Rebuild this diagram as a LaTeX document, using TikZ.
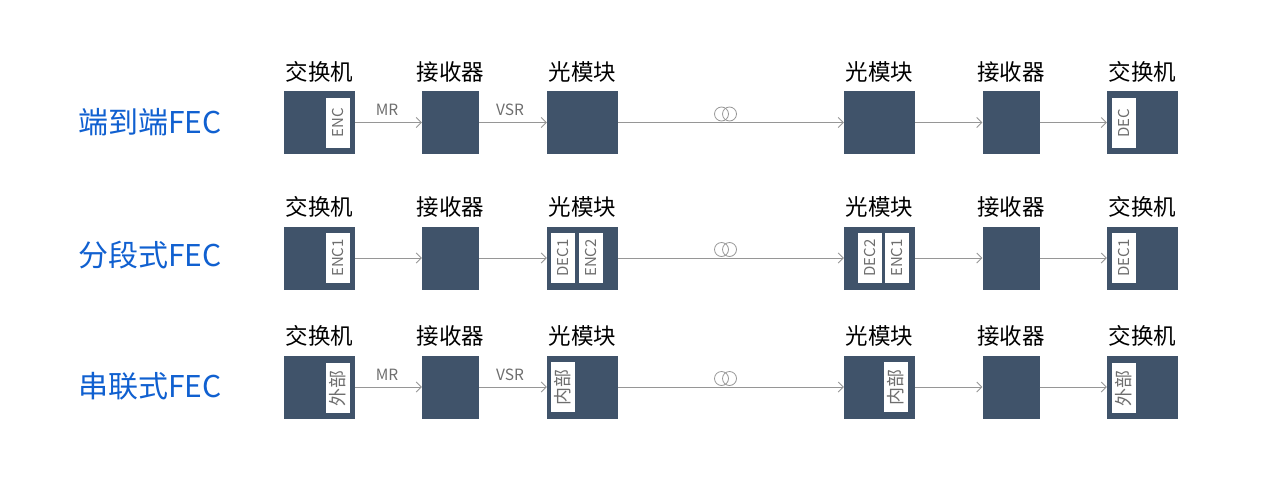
\documentclass[tikz,border=0pt]{standalone}
\usepackage{fontspec}
\setmainfont{Noto Sans CJK SC}
\usetikzlibrary{arrows.meta}
\definecolor{boxc}{RGB}{64,83,106}
\definecolor{linec}{RGB}{150,150,150}
\definecolor{txtc}{RGB}{110,110,110}
\definecolor{bluec}{RGB}{16,96,208}
\tikzset{
  dev/.style={fill=boxc,draw=none,minimum height=63pt,inner sep=0pt},
  wide/.style={dev,minimum width=71pt},
  narrow/.style={dev,minimum width=57pt},
  tag/.style={fill=white,draw=none,rotate=90,minimum width=50pt,minimum height=24pt,inner sep=0pt,font=\fontsize{15}{15}\selectfont,text=txtc},
  cjktag/.style={tag,font=\fontsize{18}{18}\selectfont},
  head/.style={font=\fontsize{22.5}{22.5}\selectfont,text=black,inner sep=0pt},
  rowlab/.style={font=\fontsize{30}{30}\selectfont,text=bluec,inner sep=0pt},
  lnk/.style={draw=linec,line width=0.8pt,-{Straight Barb[length=5pt,width=10pt,line width=0.8pt]}},
  rate/.style={font=\fontsize{15.5}{15.5}\selectfont,text=txtc,inner sep=0pt},
  fib/.style={draw=linec,line width=0.8pt}
}
\begin{document}
\begin{tikzpicture}[x=1pt,y=-1pt]
\useasboundingbox (0,0) rectangle (1280,480);
% row labels
\node[rowlab] (l1) at (150,122) {端到端FEC};
\node[rowlab] (l2) at (150,255) {分段式FEC};
\node[rowlab] (l3) at (150,386) {串联式FEC};
% rows
\foreach \r/\y in {1/122.5,2/258,3/387}{
  \node[wide]   (a\r) at (319.5,\y) {};
  \node[narrow] (b\r) at (450.5,\y) {};
  \node[wide]   (c\r) at (582.5,\y) {};
  \node[wide]   (d\r) at (879.5,\y) {};
  \node[narrow] (e\r) at (1011,\y) {};
  \node[wide]   (f\r) at (1142.5,\y) {};
  \node[head] (ha\r) at ([yshift=19pt]a\r.north) {交换机};
  \node[head] (hb\r) at ([yshift=19pt]b\r.north) {接收器};
  \node[head] (hc\r) at ([yshift=19pt]c\r.north) {光模块};
  \node[head] (hd\r) at ([yshift=19pt]d\r.north) {光模块};
  \node[head] (he\r) at ([yshift=19pt]e\r.north) {接收器};
  \node[head] (hf\r) at ([yshift=19pt]f\r.north) {交换机};
  \draw[lnk] (a\r.east) -- (b\r.west);
  \draw[lnk] (b\r.east) -- (c\r.west);
  \draw[lnk] (c\r.east) -- (d\r.west);
  \draw[lnk] (d\r.east) -- (e\r.west);
  \draw[lnk] (e\r.east) -- (f\r.west);
  \draw[fib] (721.5,\y-8.5) circle[radius=7pt];
  \draw[fib] (729.5,\y-8.5) circle[radius=7pt];
}
% tags row 1
\node[tag] (t1a) at (338,123) {ENC};
\node[tag] (t1f) at (1123.5,123) {DEC};
% tags row 2
\node[tag] (t2a) at (338,258) {ENC1};
\node[tag] (t2c1) at (562.5,258) {DEC1};
\node[tag] (t2c2) at (590.5,258) {ENC2};
\node[tag] (t2d1) at (869.5,258) {DEC2};
\node[tag] (t2d2) at (897,258) {ENC1};
\node[tag] (t2f) at (1123.5,258) {DEC1};
% tags row 3
\node[cjktag] (t3a) at (338,388) {外部};
\node[cjktag] (t3c) at (563,387) {内部};
\node[cjktag] (t3d) at (896,387) {内部};
\node[cjktag] (t3f) at (1124,388) {外部};
% rate labels
\node[rate] (mr1) at (387,110) {MR};
\node[rate] (vs1) at (510,110) {VSR};
\node[rate] (mr3) at (387,375) {MR};
\node[rate] (vs3) at (510,375) {VSR};
\end{tikzpicture}
\end{document}
